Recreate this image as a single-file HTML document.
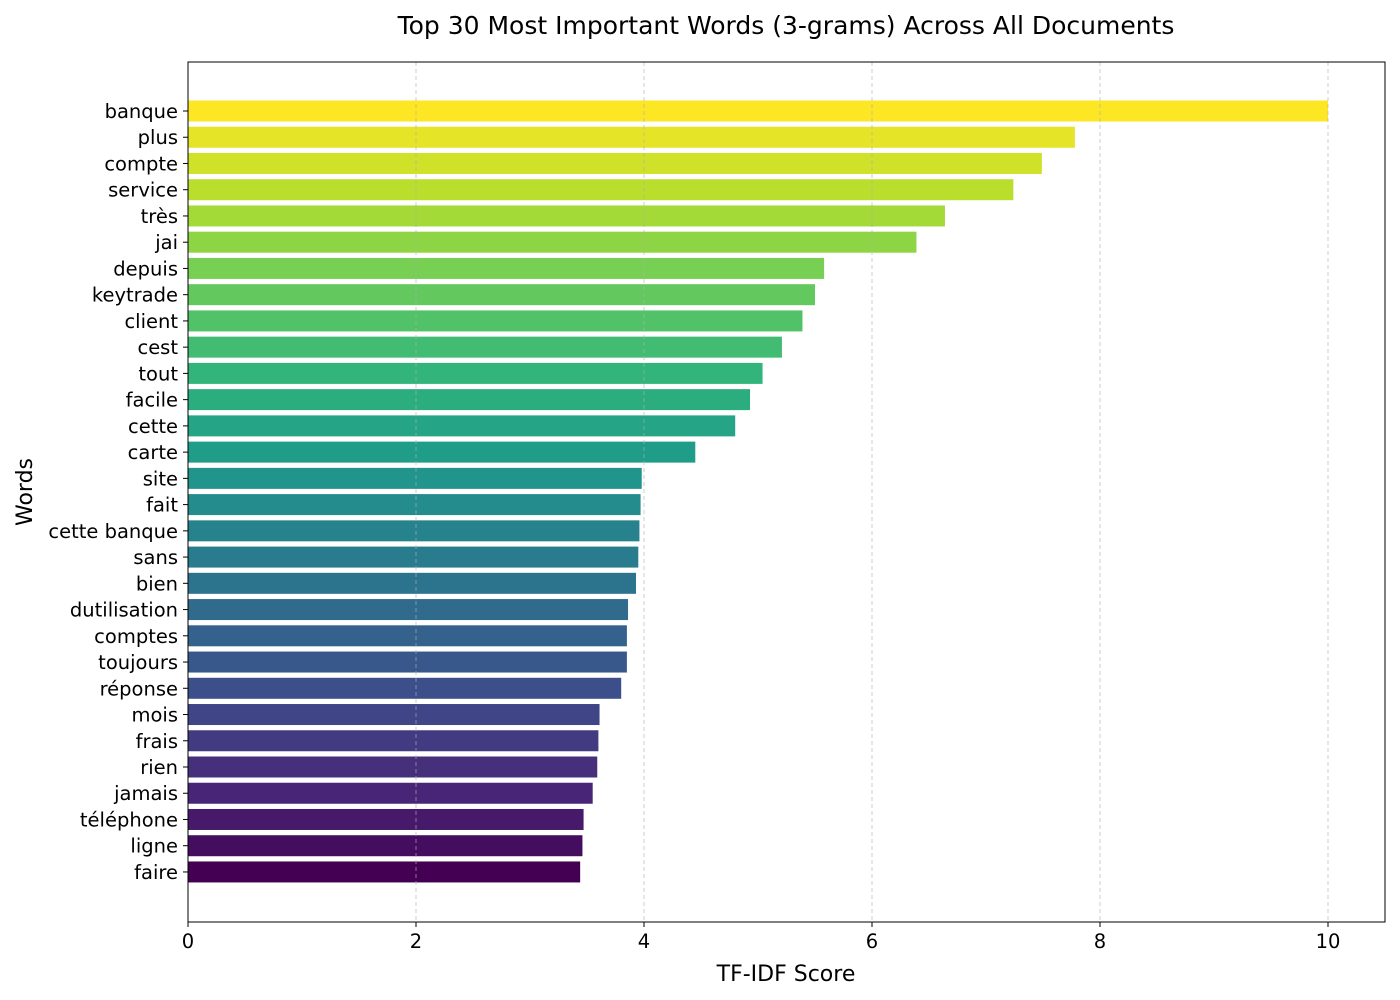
<!DOCTYPE html>
<html><head><meta charset="utf-8"><style>
body{margin:0;background:#fff;}
svg{display:block;font-family:"DejaVu Sans","Liberation Sans",sans-serif;}
</style></head><body>
<svg id="chart" width="1400" height="1000" viewBox="0 0 1400 1000" xmlns="http://www.w3.org/2000/svg">
<text x="786" y="34" text-anchor="middle" font-size="25" fill="#000">Top 30 Most Important Words (3-grams) Across All Documents</text>
<g id="bars"></g>
<g id="grid"></g>
<rect x="188" y="62" width="1197" height="860" fill="none" stroke="#000" stroke-width="1"/>
<g id="xticks"></g>
<g id="yticks"></g>
<text x="786" y="981" text-anchor="middle" font-size="22">TF-IDF Score</text>
<text transform="translate(32,492) rotate(-90)" text-anchor="middle" font-size="22">Words</text>
</svg>
<script>
const words=["banque","plus","compte","service","très","jai","depuis","keytrade","client","cest","tout","facile","cette","carte","site","fait","cette banque","sans","bien","dutilisation","comptes","toujours","réponse","mois","frais","rien","jamais","téléphone","ligne","faire"];
const scores=[10,7.78,7.49,7.24,6.64,6.39,5.58,5.50,5.39,5.21,5.04,4.93,4.80,4.45,3.98,3.97,3.96,3.95,3.93,3.86,3.85,3.85,3.80,3.61,3.60,3.59,3.55,3.47,3.46,3.44];
const xTicks=[0,2,4,6,8,10];
const NS="http://www.w3.org/2000/svg";
const x0=188,pxPerUnit=114,yTop=111,step=26.24,barH=21;
function xs(v){return x0+v*pxPerUnit;}
function ys(i){return yTop+i*step;}
const vir=[[68,1,84],[72,40,120],[62,74,137],[49,104,142],[38,130,142],[31,158,137],[53,183,121],[109,205,89],[180,222,44],[253,231,37]];
function viridis(t){const p=t*(vir.length-1),i=Math.min(Math.floor(p),vir.length-2),f=p-i;const c=vir[i].map((a,k)=>Math.round(a+(vir[i+1][k]-a)*f));return `rgb(${c[0]},${c[1]},${c[2]})`;}
function mk(tag,attrs,parent){const e=document.createElementNS(NS,tag);for(const k in attrs)e.setAttribute(k,attrs[k]);parent.appendChild(e);return e;}
const gb=document.getElementById('bars'),gg=document.getElementById('grid'),gx=document.getElementById('xticks'),gy=document.getElementById('yticks');
const n=words.length;
words.forEach((w,i)=>{
  const r=mk('rect',{x:xs(0),y:ys(i)-barH/2,width:xs(scores[i])-xs(0),height:barH,fill:viridis((n-1-i)/(n-1))},gb);
  
  
  mk('line',{x1:x0-5,x2:x0,y1:ys(i),y2:ys(i),stroke:'#000'},gy);
  const t=mk('text',{x:x0-10,y:ys(i)+7,'text-anchor':'end','font-size':19.5},gy);
  t.textContent=w;
  
  
});
xTicks.forEach(v=>{
  if(v>0){const l=mk('line',{x1:xs(v),x2:xs(v),y1:62,y2:922,stroke:'#b0b0b0','stroke-dasharray':'4,3','stroke-width':0.9,opacity:0.7},gg);
  
  }
  mk('line',{x1:xs(v),x2:xs(v),y1:922,y2:927,stroke:'#000'},gx);
  const t=mk('text',{x:xs(v),y:948,'text-anchor':'middle','font-size':19.5},gx);
  t.textContent=v;
  
  
});
</script>
</body></html>
